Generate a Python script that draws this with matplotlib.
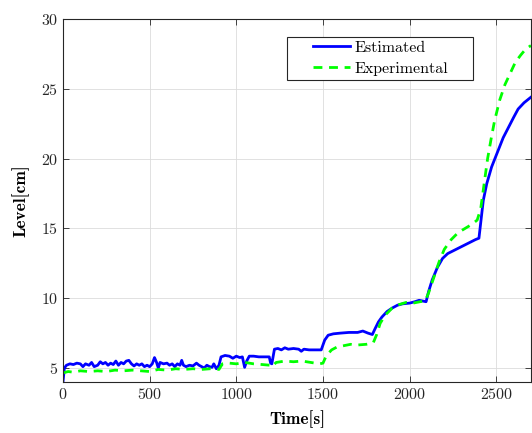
import matplotlib
matplotlib.use("Agg")
import matplotlib.pyplot as plt
from matplotlib.patches import Rectangle

plt.rcParams['font.family'] = ['cmr10', 'DejaVu Serif']
plt.rcParams['axes.formatter.use_mathtext'] = True
plt.rcParams['mathtext.fontset'] = 'cm'

est_t = [0, 8, 20, 40, 60, 80, 100, 115, 130, 150, 165, 180, 200, 215, 230, 245, 260, 275, 290, 305,
         320, 335, 350, 365, 380, 395, 410, 425, 440, 455, 470, 485, 500, 515, 528, 540, 550, 560, 580, 600,
         615, 630, 645, 660, 675, 685, 695, 710, 730, 750, 770, 785, 800, 815, 830, 845, 860, 870, 885, 900,
         912, 935, 960, 980, 1000, 1020, 1035, 1048, 1060, 1075, 1100, 1130, 1160, 1190, 1198, 1205, 1220, 1240, 1260, 1280,
         1300, 1330, 1360, 1375, 1390, 1420, 1460, 1490, 1510, 1530, 1560, 1600, 1650, 1700, 1730, 1760, 1785, 1800, 1820, 1840,
         1870, 1900, 1930, 1960, 2000, 2030, 2055, 2075, 2095, 2110, 2130, 2160, 2190, 2220, 2260, 2300, 2340, 2380, 2400, 2410,
         2425, 2445, 2473, 2511, 2540, 2569, 2600, 2626, 2660, 2700]
est_v = [4.0, 5.0, 5.2, 5.3, 5.25, 5.35, 5.3, 5.1, 5.3, 5.2, 5.4, 5.1, 5.2, 5.45, 5.3, 5.4, 5.2, 5.35, 5.25, 5.5,
         5.2, 5.4, 5.3, 5.5, 5.55, 5.3, 5.15, 5.3, 5.2, 5.3, 5.1, 5.2, 5.1, 5.3, 5.75, 5.4, 5.0, 5.4, 5.3, 5.35,
         5.2, 5.3, 5.1, 5.3, 5.2, 5.55, 5.2, 5.1, 5.2, 5.15, 5.35, 5.2, 5.1, 5.0, 5.2, 5.1, 5.05, 5.3, 4.95, 5.2,
         5.8, 5.9, 5.85, 5.7, 5.85, 5.75, 5.8, 5.05, 5.5, 5.85, 5.85, 5.8, 5.8, 5.8, 5.35, 5.3, 6.35, 6.4, 6.3, 6.45,
         6.35, 6.4, 6.35, 6.2, 6.35, 6.3, 6.3, 6.3, 7.0, 7.35, 7.45, 7.5, 7.55, 7.55, 7.65, 7.5, 7.4, 7.8, 8.3, 8.65,
         9.05, 9.3, 9.5, 9.6, 9.65, 9.75, 9.85, 9.8, 9.75, 10.5, 11.3, 12.2, 12.85, 13.2, 13.45, 13.7, 13.95, 14.2, 14.3, 15.4,
         17.0, 18.2, 19.4, 20.6, 21.5, 22.2, 22.95, 23.55, 24.0, 24.4]

exp_t = [0, 30, 60, 100, 150, 200, 250, 300, 350, 400, 450, 500, 550, 600, 650, 700, 750, 800, 850, 900,
         920, 960, 1000, 1050, 1100, 1150, 1195, 1205, 1230, 1280, 1330, 1380, 1430, 1480, 1500, 1520, 1550, 1580, 1620, 1660,
         1700, 1750, 1790, 1810, 1830, 1860, 1900, 1940, 1980, 2020, 2060, 2090, 2110, 2140, 2170, 2200, 2240, 2280, 2320, 2360,
         2390, 2410, 2430, 2450, 2470, 2490, 2520, 2550, 2580, 2610, 2640, 2670, 2700]
exp_v = [4.65, 4.75, 4.7, 4.8, 4.75, 4.8, 4.75, 4.85, 4.8, 4.85, 4.8, 4.75, 4.9, 4.85, 4.95, 4.9, 4.95, 4.9, 4.95, 4.9,
         5.3, 5.35, 5.3, 5.4, 5.3, 5.25, 5.2, 5.1, 5.4, 5.5, 5.45, 5.5, 5.4, 5.3, 5.35, 5.9, 6.3, 6.5, 6.6, 6.7,
         6.65, 6.7, 6.8, 7.4, 8.2, 8.8, 9.3, 9.55, 9.7, 9.65, 9.75, 9.8, 10.4, 11.5, 12.6, 13.5, 14.2, 14.7, 15.0, 15.3,
         15.6, 16.4, 18.2, 20.0, 21.4, 22.7, 24.2, 25.3, 26.1, 26.9, 27.4, 27.85, 28.1]

x_ticks = [0, 500, 1000, 1500, 2000, 2500]
y_ticks = [5, 10, 15, 20, 25, 30]

fig = plt.figure(figsize=(5.32, 4.33), dpi=100)
ax = fig.add_axes([0.1184, 0.1178, 0.8796, 0.8383])

ax.plot(est_t, est_v, color='#0000ff', lw=2.0, label='Estimated')
ax.plot(exp_t, exp_v, color='#00ff00', lw=2.0, ls=(0, (3.2, 2.4)), label='Experimental')

ax.set_xlim(0, 2700)
ax.set_ylim(4, 30)
ax.set_xticks(x_ticks)
ax.set_yticks(y_ticks)
ax.grid(True, color='#dcdcdc', lw=0.6)
ax.set_axisbelow(True)
ax.tick_params(direction='in', top=True, right=True, labelsize=11.5, colors='#262626', length=4, width=0.6)
for s in ax.spines.values():
    s.set_color('#262626')
    s.set_linewidth(0.8)

ax.set_xlabel('Time[s]', fontfamily=['cmb10', 'DejaVu Serif'], fontsize=12.5, labelpad=6)
ax.set_ylabel('Level[cm]', fontfamily=['cmb10', 'DejaVu Serif'], fontsize=12.5, labelpad=8)

# legend box (MATLAB style, wide padding)
ax.add_patch(Rectangle((0.4786, 0.832), 0.3974, 0.118, transform=ax.transAxes,
                       facecolor='white', edgecolor='#262626', lw=0.8, zorder=5))
leg = ax.legend(loc='upper left', bbox_to_anchor=(0.534, 0.940), frameon=False,
                fontsize=11.5, handlelength=2.3, borderpad=0.0, labelspacing=0.42,
                handletextpad=0.3, borderaxespad=0)
leg.set_zorder(6)

fig.savefig('out.png', dpi=100)
